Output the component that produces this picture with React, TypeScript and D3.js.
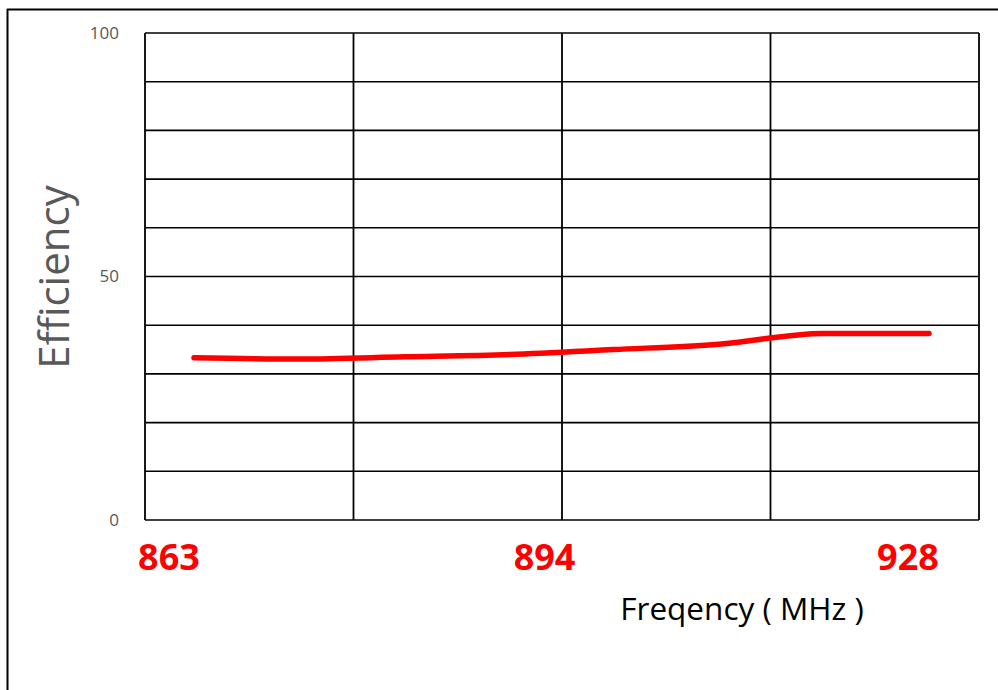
import React from "react";
import * as d3 from "d3";

const frequencies = [863, 872.3, 881.6, 890.9, 900.1, 909.4, 918.7, 928];
const efficiency = [33.3, 33.05, 33.5, 34.0, 35.0, 36.1, 38.3, 38.3];
const xTickLabels = [863, 894, 928];
const xTickShift = [-25, 0, -21];
const yTickLabels = [0, 50, 100];
const yGrid = d3.range(0, 101, 10);

const W = 998;
const H = 690;
const plot = { left: 145, right: 979, top: 33, bottom: 520 };

export default function App() {
  const x = d3.scaleLinear().domain([863, 928]).range([194, 929]);
  const y = d3.scaleLinear().domain([0, 100]).range([plot.bottom, plot.top]);
  const xCols = d3.scaleLinear().domain([0, 4]).range([plot.left, plot.right]);
  const line = d3
    .line<number>()
    .x((_, i) => x(frequencies[i]))
    .y((d) => y(d))
    .curve(d3.curveMonotoneX);

  return (
    <div style={{ position: "fixed", left: 0, top: 0 }}>
      <svg width={W} height={H} style={{ display: "block", background: "#fff" }}>
        <rect x={0} y={0} width={W} height={H} fill="#fff" />
        {/* outer frame */}
        <line x1={7.5} y1={9} x2={7.5} y2={H} stroke="#000" strokeWidth={2} />
        <line x1={7} y1={9.5} x2={W} y2={9.5} stroke="#000" strokeWidth={2} />
        {/* horizontal grid */}
        {yGrid.map((v) => (
          <line key={"h" + v} x1={plot.left} x2={plot.right} y1={y(v)} y2={y(v)} stroke="#000" strokeWidth={1.6} />
        ))}
        {/* vertical grid */}
        {d3.range(0, 5).map((i) => (
          <line key={"v" + i} x1={xCols(i)} x2={xCols(i)} y1={plot.top} y2={plot.bottom} stroke="#000" strokeWidth={1.8} />
        ))}
        {/* y tick labels */}
        {yTickLabels.map((v) => (
          <text key={"yt" + v} x={119} y={y(v)} dy="0.35em" textAnchor="end" fill="#595959" fontSize={17} fontFamily="'Open Sans', sans-serif">
            {v}
          </text>
        ))}
        {/* x tick labels */}
        {xTickLabels.map((v, i) => (
          <text key={"xt" + v} x={x(v) + xTickShift[i]} y={570} textAnchor="middle" fill="#ff0000" fontSize={36} fontWeight="bold" fontFamily="'Open Sans', sans-serif">
            {v}
          </text>
        ))}
        {/* line */}
        <path d={line(efficiency) || ""} fill="none" stroke="#ff0000" strokeWidth={5.5} strokeLinecap="round" strokeLinejoin="round" />
        {/* axis titles */}
        <text x={742} y={620} textAnchor="middle" fill="#000" fontSize={31.5} fontFamily="'Open Sans', sans-serif">
          Freqency ( MHz )
        </text>
        <text transform={`translate(69,277) rotate(-90)`} textAnchor="middle" fill="#595959" fontSize={42} fontFamily="'Open Sans', sans-serif">
          Efficiency
        </text>
      </svg>
    </div>
  );
}
